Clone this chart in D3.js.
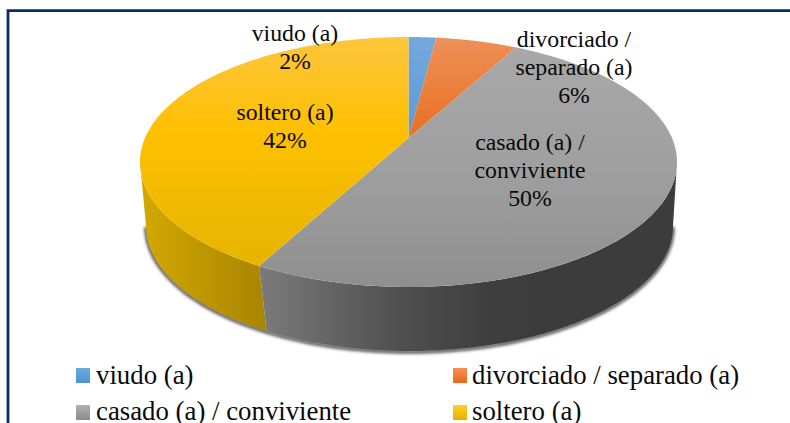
<!DOCTYPE html>
<html><head><meta charset="utf-8">
<script src="https://cdn.jsdelivr.net/npm/d3@7"></script>
<style>html,body{margin:0;padding:0;background:#fff;overflow:hidden}svg{display:block}text{font-family:"Liberation Serif","Times New Roman",serif;fill:#0a0a0a}</style>
</head><body><svg id="c" width="790" height="423"></svg>
<script>
const categories = ["viudo (a)", "divorciado / separado (a)", "casado (a) / conviviente", "soltero (a)"];
const values = [2.0, 5.9, 49.9, 42.2];
const labelLines = [["viudo (a)"], ["divorciado /", "separado (a)"], ["casado (a) /", "conviviente"], ["soltero (a)"]];

const svg = d3.select("#c");
const defs = svg.append("defs");
const TOP = {cx:408.5, cy:162, rx:268.5, ry:125};
const BOT = {cx:409.5, cy:226, rx:263.5, ry:125};
const persp = 0.192;
function proj(E, a){
  const X=Math.sin(a), Y=Math.cos(a), d=1+persp*Y;
  return [E.cx+E.rx*X*Math.sqrt(1-persp*persp)/d, E.cy-E.ry*(Y+persp)/d];
}
const sample=(E,a0,a1)=>d3.range(0,121).map(i=>proj(E,a0+(a1-a0)*i/120));
const line=d3.line();
function grad(id,x1,y1,x2,y2,stops){
  const g=defs.append("linearGradient").attr("id",id).attr("gradientUnits","userSpaceOnUse")
    .attr("x1",x1).attr("y1",y1).attr("x2",x2).attr("y2",y2);
  stops.forEach(s=>g.append("stop").attr("offset",s[0]).attr("stop-color",s[1]));
}
const faceY=[37,287];
grad("f0",0,faceY[0],0,140,[[0,"#74a8dc"],[1,"#5a9ad6"]]);
grad("f1",0,faceY[0],0,140,[[0,"#ee9059"],[1,"#e96f20"]]);
grad("f2",0,faceY[0],0,faceY[1],[[0,"#a9a9a9"],[.5,"#a0a0a0"],[1,"#8f8f8f"]]);
grad("f3",0,faceY[0],0,faceY[1],[[0,"#fdc53c"],[.4,"#fdc000"],[1,"#e3b200"]]);
grad("sYellow",143,0,265,0,[[0,"#d2a800"],[1,"#a98500"]]);
grad("sGray",262,0,530,0,[[0,"#7a7a7a"],[.5,"#505050"],[.85,"#3e3e3e"],[1,"#3c3c3c"]]);
const sw=[["#6ea8e0","#4d93d4"],["#f59055","#e8691c"],["#b2b2b2","#8a8a8a"],["#ffd02a","#e6b000"]];
sw.forEach((s,i)=>{const g=defs.append("linearGradient").attr("id","sw"+i).attr("x1",0).attr("y1",0).attr("x2",0).attr("y2",1);
  g.append("stop").attr("offset",0).attr("stop-color",s[0]);g.append("stop").attr("offset",1).attr("stop-color",s[1]);});
const blur=defs.append("filter").attr("id","sh").attr("x","-10%").attr("y","-10%").attr("width","120%").attr("height","120%");
blur.append("feGaussianBlur").attr("stdDeviation",1.6);

// frame
svg.append("path").attr("d","M8,423V10.7H790").attr("fill","none").attr("stroke","#0b2a6b").attr("stroke-width",2.8);

const arcs=d3.pie().sort(null).value(d=>d).startAngle(0).endAngle(2*Math.PI)(values);
const bound=arcs[2].endAngle; // casado / soltero edge
const tilt=Math.asin(persp);
const rightA=Math.PI/2+tilt, leftA=1.5*Math.PI-tilt; // silhouette extremes of the ellipses
const lean=0.014; // the wall seam leans slightly inward toward the base

// soft shadow under the extruded wall
const botOutline=sample(BOT,rightA,leftA);
svg.append("path").attr("d",line(botOutline.map(p=>[p[0],p[1]+1])))
  .attr("fill","none").attr("stroke","#555").attr("stroke-width",3.5).attr("filter","url(#sh)");

// walls
const wall=(a0,a1,b0,b1,fill)=>{
  const pts=[...sample(BOT,b0,b1),...sample(TOP,a1,a0)];
  svg.append("path").attr("d",line(pts)+"Z").attr("fill",fill);
};
wall(bound,leftA,bound-lean,leftA,"url(#sYellow)");
wall(rightA,bound,rightA,bound-lean,"url(#sGray)");

// top faces
const apex=[TOP.cx,TOP.cy-TOP.ry*persp];
svg.selectAll("path.face").data(arcs).join("path").attr("class","face")
  .attr("d",d=>line([apex,...sample(TOP,d.startAngle,d.endAngle)])+"Z")
  .attr("fill",(d,i)=>`url(#f${i})`);

// data labels
const fmt=d3.format(".0%");
const total=d3.sum(values);
const labelAt=[[295,41],[574,47],[530,150],[285,120]];
const labels=svg.append("g").attr("text-anchor","middle").style("font-size","23.8px");
arcs.forEach((d,i)=>{
  const t=labels.append("text").attr("x",labelAt[i][0]).attr("y",labelAt[i][1]);
  [...labelLines[i],fmt(d.value/total)].forEach((s,j)=>t.append("tspan").attr("x",labelAt[i][0]).attr("dy",j?28:0).text(s));
});

// legend
const legX=d3.scalePoint().domain([0,1]).range([76,453]);
const legY=d3.scalePoint().domain([0,1]).range([368,405]);
const items=svg.selectAll("g.leg").data(categories).join("g").attr("class","leg")
  .attr("transform",(d,i)=>`translate(${legX(i%2)},${legY(i>>1)})`);
items.append("rect").attr("width",14).attr("height",15).attr("fill",(d,i)=>`url(#sw${i})`);
items.append("text").attr("x",(d,i)=>i%2?19:20).attr("y",(d,i)=>i>1?15:16).style("font-size","26.8px").text(d=>d);
</script></body></html>
